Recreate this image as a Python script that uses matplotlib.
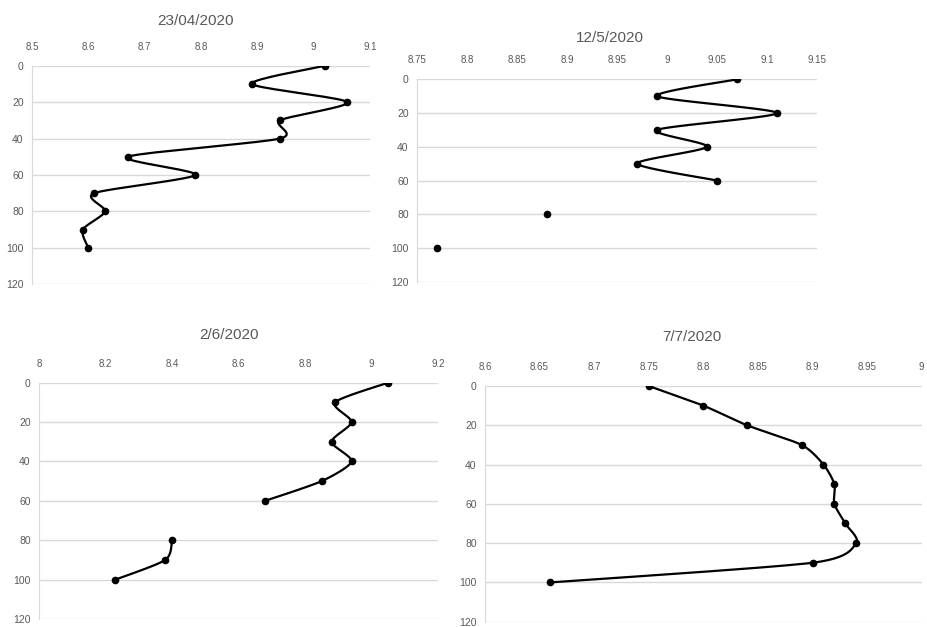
import numpy as np
import matplotlib
matplotlib.use("Agg")
import matplotlib.pyplot as plt
from matplotlib.ticker import FuncFormatter

# depth (cm) down the profile
depth = [0, 10, 20, 30, 40, 50, 60, 70, 80, 90, 100]

# readings per sampling date (nan = no sample)
ph_2304 = [9.02, 8.89, 9.06, 8.94, 8.94, 8.67, 8.79, 8.61, 8.63, 8.59, 8.60]
ph_1205 = [9.07, 8.99, 9.11, 8.99, 9.04, 8.97, 9.05, np.nan, 8.88, np.nan, 8.77]
ph_0206 = [9.05, 8.89, 8.94, 8.88, 8.94, 8.85, 8.68, np.nan, 8.40, 8.38, 8.23]
ph_0707 = [8.75, 8.80, 8.84, 8.89, 8.91, 8.92, 8.92, 8.93, 8.94, 8.90, 8.66]

titles = ["23/04/2020", "12/5/2020", "2/6/2020", "7/7/2020"]
series = [ph_2304, ph_1205, ph_0206, ph_0707]
xlims = [(8.5, 9.1, 0.1), (8.75, 9.15, 0.05), (8.0, 9.2, 0.2), (8.6, 9.0, 0.05)]

# axes boxes in figure fractions [left, bottom, width, height]
boxes = [
    [0.0345, 0.5466, 0.3642, 0.3486],
    [0.4494, 0.5507, 0.4310, 0.3228],
    [0.0420, 0.0128, 0.4300, 0.3769],
    [0.5226, 0.0085, 0.4706, 0.3759],
]
title_pos = [(196, 21), (610, 38), (229, 335), (692, 337)]  # pixel centres

GREY = "#595959"
GRID = "#d9d9d9"
W, H = 928, 627


def smooth(xs, ys, n=20, k=8.0):
    """Smoothed line: Bezier segments with Catmull-Rom style handles."""
    xs, ys = np.asarray(xs, float), np.asarray(ys, float)
    m = len(xs)
    if m < 2:
        return xs, ys
    px, py = [], []
    t = np.linspace(0, 1, n)
    for i in range(m - 1):
        i0, i3 = max(i - 1, 0), min(i + 2, m - 1)
        p0 = np.array([xs[i], ys[i]])
        p3 = np.array([xs[i + 1], ys[i + 1]])
        c1 = p0 + (p3 - np.array([xs[i0], ys[i0]])) / k
        c2 = p3 - (np.array([xs[i3], ys[i3]]) - p0) / k
        b = ((1 - t) ** 3)[:, None] * p0 + (3 * (1 - t) ** 2 * t)[:, None] * c1 \
            + (3 * (1 - t) * t ** 2)[:, None] * c2 + (t ** 3)[:, None] * p3
        px.extend(b[:, 0])
        py.extend(b[:, 1])
    return np.array(px), np.array(py)


plt.rcParams["font.family"] = ["Liberation Sans Narrow", "Liberation Sans", "DejaVu Sans"]

fig = plt.figure(figsize=(9.28, 6.27), dpi=100)

for box, title, vals, (lo, hi, step), tp in zip(boxes, titles, series, xlims, title_pos):
    ax = fig.add_axes(box)
    v = np.array(vals, float)
    d = np.array(depth, float)

    # split into runs of consecutive samples and draw each as a smoothed curve
    ok = ~np.isnan(v)
    runs, cur = [], []
    for i in range(len(v)):
        if ok[i]:
            cur.append(i)
        elif cur:
            runs.append(cur)
            cur = []
    if cur:
        runs.append(cur)
    for r in runs:
        if len(r) > 1:
            sx, sy = smooth(v[r], d[r])
            ax.plot(sx, sy, color="black", lw=1.6, zorder=3)
    ax.plot(v[ok], d[ok], "o", color="black", ms=4.5, zorder=4)

    ax.set_xlim(lo, hi)
    ax.set_ylim(120, 0)
    nt = int(round((hi - lo) / step)) + 1
    ax.set_xticks(np.linspace(lo, hi, nt))
    ax.set_yticks(np.arange(0, 121, 20))
    ax.xaxis.set_major_formatter(FuncFormatter(lambda x, p: "%g" % round(x, 2)))
    ax.xaxis.tick_top()
    ax.tick_params(length=0, labelsize=7, colors=GREY)
    ax.tick_params(axis="x", pad=10)
    ax.tick_params(axis="y", pad=6, labelsize=7.5)
    ax.grid(axis="y", color=GRID, lw=1)
    for s in ["top", "right", "bottom"]:
        ax.spines[s].set_visible(False)
    ax.spines["left"].set_color(GRID)
    fig.text(tp[0] / W, 1 - tp[1] / H, title, color=GREY, fontsize=11,
             ha="center", va="center", family=["Liberation Sans", "DejaVu Sans"])

fig.savefig("out.png", dpi=100)
